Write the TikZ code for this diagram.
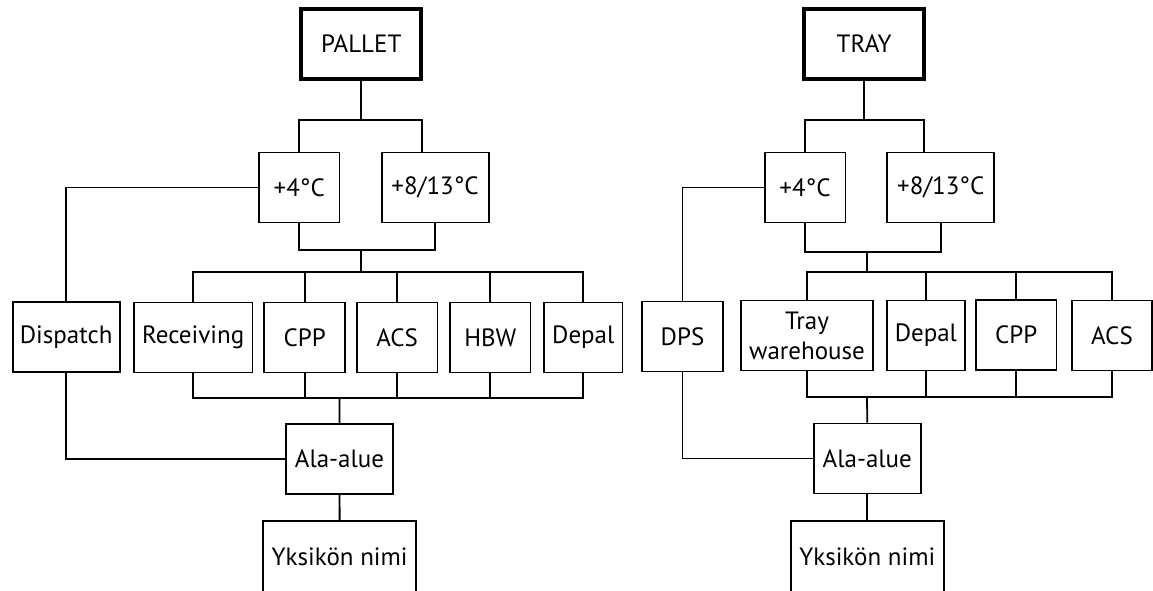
\documentclass[tikz,border=0pt]{standalone}
\usepackage{fontspec}
\setmainfont{PT Sans}
\usetikzlibrary{calc}
\begin{document}
\begin{tikzpicture}[x=0.5pt,y=-0.5pt,
    box/.style={draw, line width=0.9pt, minimum width=#1, minimum height=35pt,
      inner sep=0pt, align=center, font=\fontsize{12.5}{15}\selectfont},
    topbox/.style={box=#1, line width=2pt, minimum height=35pt},
    wire/.style={line width=0.9pt}]
  \clip (0,0) rectangle (1153,590);
  % --- LEFT: pallet tree ---
  \node[topbox=59.9pt] (pallet) at (361.3,43.7) {PALLET};
  \node[box=40.3pt] (coolA) at (299.2,187.5) {+4°C};
  \node[box=53.5pt] (chillA) at (435.1,187.5) {+8/13°C};
  \node[box=53.6pt] (dispatch) at (66.2,337) {Dispatch};
  \node[box=59.3pt] (receiving) at (193.2,337.5) {Receiving};
  \node[box=40.4pt] (cppA) at (304.7,337.5) {CPP};
  \node[box=40.3pt] (acsA) at (397.2,337.5) {ACS};
  \node[box=40.1pt] (hbw) at (490.3,337.5) {HBW};
  \node[box=39.1pt] (depalA) at (583.3,337.5) {Depal};
  \node[box=53.6pt] (subA) at (339.5,459.2) {Ala-alue};
  \node[box=76.4pt, minimum height=36pt] (unitA) at (339.7,557) {Yksikön nimi};
  \coordinate (splitA) at (361.3,120);
  \coordinate (splitAr) at (421.7,120);
  \coordinate (joinA) at (361.3,250);
  \coordinate (busA) at (361.3,272);
  \coordinate (collectA) at (339.6,398);
  % Connections
  \draw[wire] (pallet) -- (splitA);
  \draw[wire] (coolA.north) |- (splitAr) -- (splitAr |- chillA.north);
  \draw[wire] (coolA.south) |- (joinA) -| (chillA.south);
  \draw[wire] (joinA) -- (busA);
  \draw[wire] (receiving.north) |- (busA) -| (depalA.north);
  \draw[wire] (receiving.south) |- (collectA) -| (depalA.south);
  \foreach \n in {cppA,acsA,hbw} {
    \draw[wire] (\n.north) -- (\n.north |- busA);
    \draw[wire] (\n.south) -- (\n.south |- collectA);
  }
  \draw[wire] (collectA) -- (subA.north);
  \draw[wire] (coolA.west) -| (dispatch.north);
  \draw[wire] (dispatch.south) |- (subA.west);
  \draw[wire] (subA) -- (unitA);
  % --- RIGHT: tray tree ---
  \node[topbox=59.9pt] (tray) at (864.2,43.7) {TRAY};
  \node[box=40.4pt] (coolB) at (805,187.5) {+4°C};
  \node[box=53.4pt] (chillB) at (940.75,187.5) {+8/13°C};
  \node[box=40.6pt] (dps) at (682.5,336.5) {DPS};
  \node[box=66.1pt] (trayhouse) at (807,335.5) {Tray\\warehouse};
  \node[box=39.3pt] (depalB) at (925.9,335.5) {Depal};
  \node[box=40.3pt] (cppB) at (1016.2,335) {CPP};
  \node[box=40.1pt] (acsB) at (1112,335.5) {ACS};
  \node[box=53.5pt] (subB) at (867.3,458.5) {Ala-alue};
  \node[box=76.4pt, minimum height=36pt] (unitB) at (867.3,557) {Yksikön nimi};
  \coordinate (splitB) at (864.2,120);
  \coordinate (splitBr) at (924,120);
  \coordinate (joinB) at (867,252);
  \coordinate (busB) at (867,272);
  \coordinate (collectB) at (867,396.7);
  % Connections
  \draw[wire] (tray) -- (splitB);
  \draw[wire] (coolB.north) |- (splitBr) -- (splitBr |- chillB.north);
  \draw[wire] (coolB.south) |- (joinB) -| (chillB.south);
  \draw[wire] (joinB) -- (busB);
  \draw[wire] (trayhouse.north) |- (busB) -| (acsB.north);
  \draw[wire] (trayhouse.south) |- (collectB) -| (acsB.south);
  \foreach \n in {depalB,cppB} {
    \draw[wire] (\n.north) -- (\n.north |- busB);
    \draw[wire] (\n.south) -- (\n.south |- collectB);
  }
  \draw[wire] (collectB) -- (subB.north);
  \draw[wire] (coolB.west) -| (dps.north);
  \draw[wire] (dps.south) |- (subB.west);
  \draw[wire] (subB) -- (unitB);
\end{tikzpicture}
\end{document}
